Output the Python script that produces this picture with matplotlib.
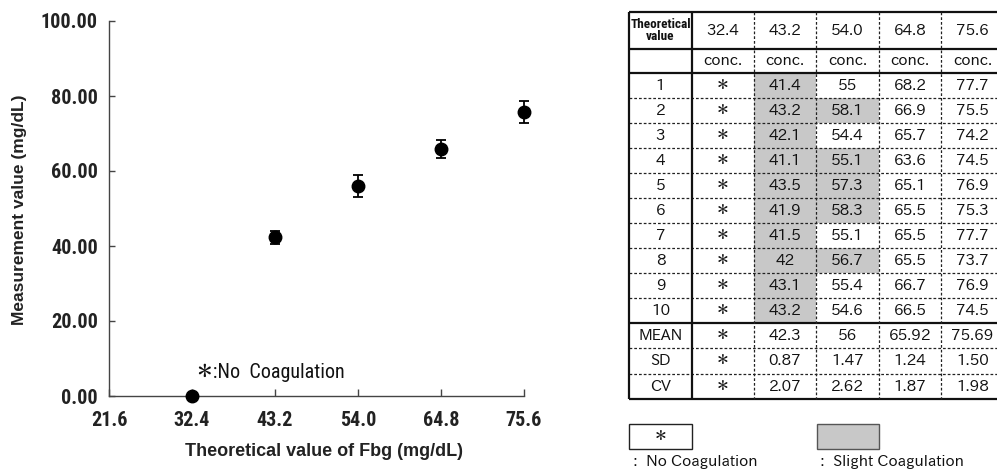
import matplotlib
matplotlib.use("Agg")
import matplotlib.pyplot as plt
from matplotlib.patches import Rectangle

# ---------------- data ----------------
theoretical = [32.4, 43.2, 54.0, 64.8, 75.6]
x_ticks = [21.6, 32.4, 43.2, 54.0, 64.8, 75.6]
y_ticks = [0, 20, 40, 60, 80, 100]
mean_vals = [0.0, 42.3, 56.0, 65.92, 75.69]
sd_vals = [0.0, 0.87, 1.47, 1.24, 1.50]   # error bars drawn as +/- 2 SD

run_labels = ["1", "2", "3", "4", "5", "6", "7", "8", "9", "10"]
col_324 = ["＊"] * 10
col_432 = ["41.4", "43.2", "42.1", "41.1", "43.5", "41.9", "41.5", "42", "43.1", "43.2"]
col_540 = ["55", "58.1", "54.4", "55.1", "57.3", "58.3", "55.1", "56.7", "55.4", "54.6"]
col_648 = ["68.2", "66.9", "65.7", "63.6", "65.1", "65.5", "65.5", "65.5", "66.7", "66.5"]
col_756 = ["77.7", "75.5", "74.2", "74.5", "76.9", "75.3", "77.7", "73.7", "76.9", "74.5"]
slight_432 = [1, 1, 1, 1, 1, 1, 1, 1, 1, 1]
slight_540 = [0, 1, 0, 1, 1, 1, 0, 1, 0, 0]
slight_324 = [0] * 10
slight_648 = [0] * 10
slight_756 = [0] * 10

stat_labels = ["MEAN", "SD", "CV"]
stat_mean = ["＊", "42.3", "56", "65.92", "75.69"]
stat_sd = ["＊", "0.87", "1.47", "1.24", "1.50"]
stat_cv = ["＊", "2.07", "2.62", "1.87", "1.98"]

header_vals = ["32.4", "43.2", "54.0", "64.8", "75.6"]
unit_label = "conc."

# ---------------- style ----------------
NARROW = ["Roboto Condensed", "Liberation Sans", "DejaVu Sans"]
TBL = ["IPAPGothic", "Noto Sans CJK JP", "DejaVu Sans"]
ARIAL = ["Liberation Sans", "DejaVu Sans"]
GRAY = "#c8c8c8"

W, H = 997, 470
fig = plt.figure(figsize=(W / 100, H / 100), dpi=100)

# ---------------- chart ----------------
L, R, T, B = 109, 524, 21, 396
ax = fig.add_axes([L / W, 1 - B / H, (R - L) / W, (B - T) / H])
ax.set_xlim(x_ticks[0], x_ticks[-1])
ax.set_ylim(y_ticks[0], y_ticks[-1])
yerr = [2 * s for s in sd_vals]
ax.errorbar(theoretical, mean_vals, yerr=yerr, fmt="o", color="black",
            markersize=9, elinewidth=1.3, capsize=3.8, capthick=1.3,
            clip_on=False, zorder=5)
for s in ["top", "right"]:
    ax.spines[s].set_visible(False)
for s in ["left", "bottom"]:
    ax.spines[s].set_color("#444444")
    ax.spines[s].set_linewidth(1.0)
ax.set_xticks(x_ticks)
ax.set_xticklabels([f"{v:.1f}" for v in x_ticks])
ax.set_yticks(y_ticks)
ax.set_yticklabels([f"{v:.2f}" for v in y_ticks])
ax.tick_params(axis="x", direction="in", length=5, width=1, color="#444444", pad=11)
ax.tick_params(axis="y", direction="in", length=4.5, width=1, color="#444444", pad=8)
for lab in ax.get_xticklabels() + ax.get_yticklabels():
    lab.set_family(NARROW)
    lab.set_fontweight("bold")
    lab.set_fontsize(14.5)
    lab.set_color("#222222")

fig.text(20 / W, 1 - 210 / H, "Measurement value (mg/dL)", rotation=90,
         ha="center", va="center", fontsize=12.5, fontweight="bold",
         family=ARIAL, color="#222222")
fig.text(324 / W, 1 - 452 / H, "Theoretical value of Fbg (mg/dL)",
         ha="center", va="center", fontsize=13, fontweight="bold",
         family=ARIAL, color="#222222")

# ---------------- overlay (table + notes), pixel coordinates ----------------
ov = fig.add_axes([0, 0, 1, 1])
ov.set_xlim(0, W)
ov.set_ylim(H, 0)
ov.set_axis_off()

ov.text(197, 373, "＊:No  Coagulation", ha="left", va="center",
        fontsize=14.5, family=["Roboto Condensed", "IPAPGothic", "Noto Sans CJK JP"],
        color="#111111")

col_x = [629, 692, 754, 816, 879, 941, 1004]
row_y = [11.7, 48.7, 73.0]
for i in range(10):
    row_y.append(73.0 + 24.95 * (i + 1))
for i in range(3):
    row_y.append(322.5 + 25.6 * (i + 1))

data_cols = [col_324, col_432, col_540, col_648, col_756]
slight_cols = [slight_324, slight_432, slight_540, slight_648, slight_756]
stat_rows = [stat_mean, stat_sd, stat_cv]

# gray shading
for c, flags in enumerate(slight_cols):
    for r, f in enumerate(flags):
        if f:
            y0, y1 = row_y[2 + r], row_y[3 + r]
            ov.add_patch(Rectangle((col_x[c + 1], y0), col_x[c + 2] - col_x[c + 1],
                                   y1 - y0, facecolor=GRAY, edgecolor="none", zorder=1))

def cx(c):
    return (col_x[c] + col_x[c + 1]) / 2

def cy(r):
    return (row_y[r] + row_y[r + 1]) / 2 + 0.5

tkw = dict(ha="center", va="center", fontsize=11, family=TBL, color="#111111", zorder=3)

# headers
ov.text(cx(0), cy(0), "Theoretical\nvalue", ha="center", va="center", fontsize=9.5,
        fontweight="bold", family=NARROW, linespacing=0.85, color="#111111", zorder=3)
for c, hv in enumerate(header_vals):
    ov.text(cx(c + 1), cy(0), hv, **tkw)
    ov.text(cx(c + 1), cy(1), unit_label, **tkw)

# data rows
for r, lab in enumerate(run_labels):
    ov.text(cx(0), cy(2 + r), lab, **tkw)
    for c, col in enumerate(data_cols):
        ov.text(cx(c + 1), cy(2 + r), col[r], **tkw)

# stats rows
for s, (lab, vals) in enumerate(zip(stat_labels, stat_rows)):
    ov.text(cx(0), cy(12 + s), lab, **tkw)
    for c, v in enumerate(vals):
        ov.text(cx(c + 1), cy(12 + s), v, **tkw)

# grid lines
solid = dict(color="#111111", lw=1.6, zorder=4, solid_capstyle="butt")
dash = dict(color="#222222", lw=0.9, zorder=4, linestyle=(0, (2.2, 1.6)))
x_left, x_right = col_x[0], col_x[-1]
y_top, y_bot = row_y[0], row_y[-1]
for i, y in enumerate(row_y):
    if i in (0, 1, 2, 12, len(row_y) - 1):
        ov.plot([x_left, x_right], [y, y], **solid)
    else:
        ov.plot([x_left, x_right], [y, y], **dash)
ov.plot([col_x[0], col_x[0]], [y_top, y_bot], **solid)
ov.plot([col_x[1], col_x[1]], [y_top, y_bot], **solid)
for x in col_x[2:]:
    ov.plot([x, x], [y_top, y_bot], **dash)

# legend below the table
ov.add_patch(Rectangle((629, 424), 63, 24.5, facecolor="white", edgecolor="#222222", lw=1.0))
ov.text(660.5, 437, "＊", **tkw)
ov.text(633, 462, ":  No Coagulation", ha="left", va="center", fontsize=11,
        family=TBL, color="#111111")
ov.add_patch(Rectangle((816.5, 424), 62.5, 24.5, facecolor=GRAY, edgecolor="#555555", lw=1.0))
ov.text(820, 462, ":  Slight Coagulation", ha="left", va="center", fontsize=11,
        family=TBL, color="#111111")

fig.savefig("out.png", dpi=100)
